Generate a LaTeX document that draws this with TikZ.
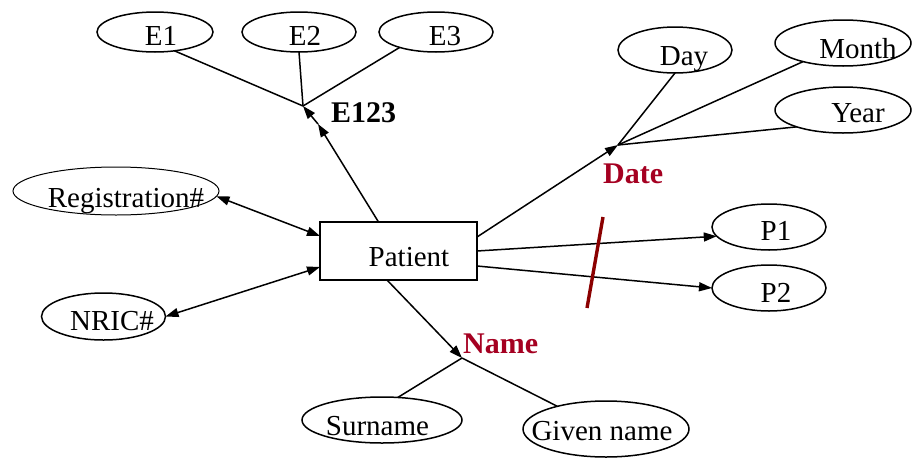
\documentclass[tikz,border=0pt]{standalone}
\usepackage{fontspec}
\setmainfont{Liberation Serif}
\usetikzlibrary{shapes.geometric,arrows.meta,calc}
\definecolor{labelred}{RGB}{165,0,33}
\definecolor{slashred}{RGB}{139,0,0}
\begin{document}
\begin{tikzpicture}[x=1pt,y=-1pt,
  attr/.style={draw, ellipse, line width=1.5pt, inner sep=0pt, outer sep=0pt},
  thinattr/.style={attr, line width=1pt},
  entity/.style={draw, rectangle, line width=1.5pt, inner sep=0pt, outer sep=0pt},
  txt/.style={inner sep=0pt, anchor=base, font=\fontsize{29}{32}\selectfont},
  tag/.style={inner sep=0pt, anchor=base west, font=\fontsize{30}{32}\selectfont\bfseries},
  link/.style={line width=1.5pt},
  tip/.tip={Triangle[length=13pt,width=9pt]},
  arr/.style={link, -tip},
  darr/.style={link, tip-tip},
]
\useasboundingbox (0,0) rectangle (912,458);

% entity
\node[entity, minimum width=157pt, minimum height=58pt] (pat) at (398.5,251) {};
\node[txt] (patt) at (409,266) {Patient};

% composite attribute E123
\node[attr, minimum width=116pt, minimum height=40pt] (e1) at (155,32) {};
\node[attr, minimum width=114pt, minimum height=40pt] (e2) at (299,32) {};
\node[attr, minimum width=114pt, minimum height=40pt] (e3) at (436,32) {};
\node[txt] (e1t) at (161,45) {E1};
\node[txt] (e2t) at (305,45) {E2};
\node[txt] (e3t) at (445,45) {E3};
\coordinate (j123) at (303,106);
\coordinate (m123) at (318,124);
\node[tag] (e123) at (331,122) {E123};
\draw[link] (e1.-44) -- (j123);
\draw[link] (e2.south) -- (j123);
\draw[link] (e3.203) -- (j123);
\draw[arr] ([xshift=-20pt]pat.north) -- (m123);
\draw[arr] (m123) -- (j123);

% keys
\node[thinattr, minimum width=206pt, minimum height=48pt] (reg) at (116,191) {};
\node[txt] (regt) at (126,207) {Registration\#};
\node[attr, minimum width=124pt, minimum height=47pt] (nric) at (103.5,316.5) {};
\node[txt] (nrict) at (112,330) {NRIC\#};
\draw[darr] (reg.-3.5) -- ([yshift=15pt]pat.west);
\draw[darr] (nric.east) -- ([yshift=-16pt]pat.west);

% composite attribute Date
\node[attr, minimum width=114pt, minimum height=46pt] (day) at (675,50) {};
\node[attr, minimum width=136pt, minimum height=46pt] (month) at (843,43) {};
\node[attr, minimum width=136pt, minimum height=46pt] (year) at (843,110) {};
\node[txt] (dayt) at (684,65) {Day};
\node[txt] (montht) at (858,58) {Month};
\node[txt] (yeart) at (858,122) {Year};
\coordinate (jdate) at (618,145);
\node[tag, text=labelred] (date) at (603,183) {Date};
\draw[link] (day.south) -- (jdate);
\draw[link] (month.205) -- (jdate);
\draw[link] (year.200) -- (jdate);
\draw[arr] ([yshift=14pt]pat.east) -- (jdate);

% multivalued attributes P1, P2
\node[attr, minimum width=114pt, minimum height=46pt] (p1) at (769,227) {};
\node[attr, minimum width=114pt, minimum height=46pt] (p2) at (769,288) {};
\node[txt] (p1t) at (776,240) {P1};
\node[txt] (p2t) at (776,302) {P2};
\draw[arr] (pat.east) -- (p1.190);
\draw[arr] ([yshift=-15pt]pat.east) -- (p2.west);
\coordinate (slashtop) at (603,217);
\coordinate (slashbot) at (587,308);
\draw[slashred, line width=3.4pt] (slashtop) -- (slashbot);

% composite attribute Name
\node[attr, minimum width=160pt, minimum height=46pt] (sur) at (382,420) {};
\node[attr, minimum width=166pt, minimum height=56pt] (given) at (606,429) {};
\node[txt] (surt) at (377.5,435) {Surname};
\node[txt] (givent) at (602,440) {Given name};
\coordinate (jname) at (462,358);
\node[tag, text=labelred] (name) at (463,353) {Name};
\draw[link] (sur.55) -- (jname);
\draw[link] (given.155) -- (jname);
\draw[arr] ([xshift=-11.5pt]pat.south) -- (jname);
\end{tikzpicture}
\end{document}
